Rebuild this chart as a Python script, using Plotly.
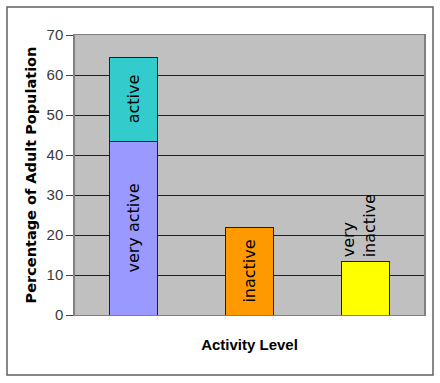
import plotly.graph_objects as go

categories = ["very active / active", "inactive", "very inactive"]
x_pos = [0, 1, 2]
very_active = [43.5]
active = [21.0]
inactive = [22.0]
very_inactive = [13.5]
y_ticks = [0, 10, 20, 30, 40, 50, 60, 70]

FONT = "Liberation Sans, Arial, sans-serif"
LABEL_FONT = "DejaVu Sans, Verdana, sans-serif"
W, H = 440, 383
L, R, T, B = 75, 16, 35, 68

fig = go.Figure()
common = dict(width=0.41, marker_line=dict(color="#202020", width=1),
              textangle=-90, textfont=dict(family=LABEL_FONT, size=16, color="black"),
              insidetextanchor="middle", cliponaxis=False, hoverinfo="skip")
fig.add_bar(x=[x_pos[0]], y=very_active, text=["very active"], textposition="inside",
            marker_color="#9999FF", **common)
fig.add_bar(x=[x_pos[0]], y=active, text=["active"], textposition="inside",
            marker_color="#33CCCC", **common)
fig.add_bar(x=[x_pos[1]], y=inactive, text=["inactive"], textposition="inside",
            marker_color="#FF9900", **common)
fig.add_bar(x=[x_pos[2]], y=very_inactive, textposition="none",
            marker_color="#FFFF00", **common)

# label above the last bar (two lines, bottom-aligned)
for txt, dx in [("very", -17), ("inactive", 4)]:
    fig.add_annotation(x=x_pos[2], y=very_inactive[0], text=txt, textangle=-90,
                       showarrow=False, xanchor="center", yanchor="bottom",
                       xshift=dx, yshift=2,
                       font=dict(family=LABEL_FONT, size=16, color="black"))

pw = W - L - R
ph = H - T - B
def px_to_paper_x(px):
    return (px - L) / pw
def py_to_paper_y(py):
    return (H - B - py) / ph

fig.update_layout(
    width=W, height=H, barmode="stack", showlegend=False,
    margin=dict(l=L, r=R, t=T, b=B, autoexpand=False),
    paper_bgcolor="white", plot_bgcolor="#C0C0C0",
    uniformtext=dict(mode="show", minsize=10),
    xaxis=dict(range=[-0.5, 2.5], showticklabels=False, ticks="", showgrid=False,
               zeroline=False, showline=True, linecolor="#808080", linewidth=1, mirror=True,
               automargin=False,
               title=dict(text="<b>Activity Level</b>", font=dict(family=FONT, size=15, color="black"),
                          standoff=24)),
    yaxis=dict(range=[0, 70], tickvals=y_ticks, showgrid=True, gridcolor="#202020", gridwidth=1,
               zeroline=False, showline=True, linecolor="#808080", linewidth=1.5, mirror=True,
               automargin=False,
               ticks="outside", ticklen=7, tickcolor="#404040",
               tickfont=dict(family=FONT, size=15, color="#3a3a3a"),
               title=dict(text="<b>Percentage of Adult Population</b>",
                          font=dict(family=LABEL_FONT, size=14.5, color="black"), standoff=6)),
    shapes=[dict(type="rect", xref="paper", yref="paper",
                 x0=px_to_paper_x(7), x1=px_to_paper_x(433),
                 y0=py_to_paper_y(375), y1=py_to_paper_y(7),
                 line=dict(color="#606060", width=1.5), layer="below")],
)

fig.write_html("out.html", config={"displayModeBar": False},
               post_script="document.body.style.margin='0';")
